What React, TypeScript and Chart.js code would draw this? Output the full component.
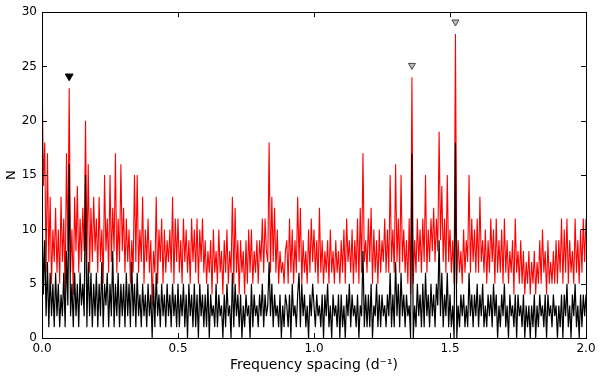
import { useEffect, useRef } from "react";
import { Chart, registerables } from "chart.js";

Chart.register(...registerables);

// Frequency grid step (d^-1), 0.0 .. 2.0
const freqStep = 0.005;

const redCounts = [
  26, 14, 18, 6, 17, 7, 13, 5, 10, 7, 12, 6, 10, 5, 13, 7, 11, 4, 17, 8,
  23, 6, 10, 4, 13, 8, 14, 6, 11, 7, 12, 8, 20, 7, 16, 6, 12, 7, 13, 8,
  11, 6, 13, 7, 10, 5, 15, 8, 11, 6, 15, 7, 12, 8, 17, 6, 11, 7, 16, 8,
  12, 6, 11, 7, 10, 5, 9, 6, 15, 7, 15, 6, 10, 7, 13, 5, 10, 7, 11, 6,
  9, 3, 8, 6, 13, 5, 10, 7, 11, 5, 10, 6, 9, 7, 10, 6, 13, 5, 11, 7,
  11, 6, 9, 5, 11, 7, 10, 6, 9, 5, 11, 7, 10, 6, 11, 5, 10, 7, 11, 6,
  9, 5, 8, 6, 9, 4, 10, 6, 8, 5, 10, 6, 8, 4, 9, 6, 10, 5, 8, 6,
  13, 5, 12, 6, 9, 4, 9, 6, 8, 4, 9, 5, 10, 6, 10, 5, 8, 6, 9, 5,
  9, 7, 11, 6, 11, 8, 7, 18, 6, 13, 7, 12, 6, 10, 5, 8, 6, 7, 5, 8,
  9, 5, 11, 6, 10, 5, 9, 6, 13, 7, 12, 5, 9, 6, 8, 5, 10, 6, 11, 7,
  10, 6, 9, 5, 12, 6, 9, 5, 8, 6, 9, 5, 10, 6, 8, 5, 9, 6, 8, 5,
  9, 6, 10, 5, 11, 7, 9, 6, 10, 5, 9, 6, 11, 5, 12, 6, 17, 7, 9, 6,
  11, 7, 12, 5, 10, 6, 9, 5, 10, 6, 9, 7, 11, 6, 10, 6, 15, 7, 10, 6,
  16, 7, 11, 6, 15, 7, 10, 6, 9, 5, 11, 4, 24, 5, 9, 6, 11, 7, 10, 6,
  11, 7, 15, 6, 10, 7, 11, 8, 12, 7, 11, 8, 19, 9, 14, 7, 11, 6, 15, 7,
  10, 6, 9, 5, 28, 5, 9, 6, 8, 5, 10, 6, 9, 7, 15, 6, 11, 7, 10, 6,
  11, 6, 13, 7, 9, 6, 10, 5, 9, 6, 11, 7, 10, 5, 11, 6, 9, 6, 10, 5,
  11, 6, 9, 5, 8, 6, 9, 4, 11, 6, 8, 5, 9, 5, 8, 4, 7, 5, 8, 4,
  7, 5, 8, 4, 7, 5, 9, 5, 10, 6, 8, 4, 9, 5, 7, 5, 8, 5, 9, 5,
  9, 6, 11, 5, 10, 6, 11, 5, 9, 6, 8, 5, 11, 6, 9, 5, 10, 6, 11, 7, 11,
];

const blackCounts = [
  13, 4, 9, 2, 7, 1, 6, 2, 5, 1, 6, 2, 5, 1, 4, 2, 6, 1, 8, 3,
  16, 2, 5, 1, 6, 2, 5, 1, 6, 3, 5, 2, 15, 1, 7, 2, 6, 1, 5, 2,
  6, 1, 5, 2, 7, 1, 5, 3, 6, 1, 5, 2, 8, 1, 5, 2, 6, 1, 5, 2,
  5, 1, 6, 2, 5, 1, 7, 2, 5, 1, 6, 2, 4, 1, 5, 2, 4, 1, 5, 2,
  4, 0, 5, 1, 6, 2, 4, 1, 5, 2, 4, 1, 5, 2, 4, 1, 5, 2, 4, 1,
  5, 1, 4, 2, 5, 1, 4, 0, 5, 2, 4, 1, 5, 1, 4, 0, 5, 2, 4, 1,
  4, 1, 5, 0, 4, 2, 3, 1, 5, 1, 4, 2, 3, 0, 4, 1, 5, 2, 3, 0,
  6, 1, 5, 2, 4, 1, 4, 0, 3, 1, 4, 2, 3, 0, 5, 1, 4, 2, 3, 1,
  4, 2, 5, 1, 4, 2, 3, 7, 2, 5, 1, 4, 2, 3, 1, 4, 0, 3, 1, 4,
  3, 1, 4, 0, 5, 2, 3, 1, 4, 6, 1, 5, 2, 4, 1, 3, 0, 4, 2, 5,
  3, 1, 4, 2, 3, 1, 4, 0, 4, 2, 5, 1, 3, 0, 4, 2, 3, 1, 4, 0,
  4, 1, 3, 0, 4, 2, 5, 1, 4, 2, 3, 1, 4, 0, 3, 2, 8, 1, 4, 1,
  4, 1, 5, 0, 3, 2, 5, 1, 4, 1, 4, 2, 3, 1, 4, 2, 6, 1, 4, 1,
  7, 2, 5, 1, 6, 2, 4, 1, 4, 2, 3, 0, 17, 0, 3, 1, 5, 2, 4, 1,
  5, 1, 6, 2, 4, 1, 5, 2, 4, 1, 5, 3, 9, 2, 6, 1, 4, 2, 6, 1,
  4, 1, 3, 0, 18, 0, 3, 1, 4, 2, 4, 1, 3, 1, 6, 2, 4, 1, 4, 2,
  5, 1, 4, 2, 5, 1, 3, 1, 4, 2, 4, 1, 5, 2, 4, 0, 3, 1, 4, 2,
  5, 1, 3, 0, 4, 2, 3, 1, 4, 0, 4, 2, 3, 1, 4, 0, 3, 1, 3, 0,
  3, 1, 4, 0, 3, 1, 4, 2, 3, 1, 4, 0, 4, 2, 3, 1, 4, 2, 3, 0,
  3, 1, 4, 0, 4, 2, 5, 1, 3, 0, 4, 2, 5, 1, 3, 0, 4, 1, 4, 2, 4,
];

const blackMarkerX = [0.1];
const blackMarkerY = [24.1];
const greyMarkerX = [1.36, 1.52];
const greyMarkerY = [25.1, 29.1];

const xTicks = [0, 0.5, 1.0, 1.5, 2.0];
const yTicks = [0, 5, 10, 15, 20, 25, 30];

const toPoints = (vals: number[]) =>
  vals.map((v, i) => ({ x: Number((i * freqStep).toFixed(3)), y: v }));

const framePlugin = {
  id: "frameTicks",
  afterDatasetsDraw(chart: any) {
    const { ctx, chartArea, scales } = chart;
    const { left, right, top, bottom } = chartArea;
    ctx.save();
    ctx.strokeStyle = "#000";
    ctx.lineWidth = 1;
    ctx.beginPath();
    for (const t of xTicks) {
      const px = Math.round(scales.x.getPixelForValue(t)) + 0.5;
      ctx.moveTo(px, bottom);
      ctx.lineTo(px, bottom - 5);
      ctx.moveTo(px, top);
      ctx.lineTo(px, top + 5);
    }
    for (const t of yTicks) {
      const py = Math.round(scales.y.getPixelForValue(t)) + 0.5;
      ctx.moveTo(left, py);
      ctx.lineTo(left + 5, py);
      ctx.moveTo(right, py);
      ctx.lineTo(right - 5, py);
    }
    ctx.stroke();
    ctx.strokeRect(Math.round(left) + 0.5, Math.round(top) + 0.5, Math.round(right - left), Math.round(bottom - top));
    ctx.restore();
  },
};

export default function App() {
  const canvasRef = useRef<HTMLCanvasElement | null>(null);

  useEffect(() => {
    if (!canvasRef.current) return;
    Chart.defaults.font.family = "'DejaVu Sans', sans-serif";
    const chart = new Chart(canvasRef.current, {
      type: "line",
      data: {
        datasets: [
          {
            type: "scatter",
            data: blackMarkerX.map((x, i) => ({ x, y: blackMarkerY[i] })),
            pointStyle: "triangle",
            rotation: 180,
            radius: 4.5,
            backgroundColor: "#000",
            borderColor: "#000",
            borderWidth: 1,
            order: 0,
          } as any,
          {
            type: "scatter",
            data: greyMarkerX.map((x, i) => ({ x, y: greyMarkerY[i] })),
            pointStyle: "triangle",
            rotation: 180,
            radius: 4,
            backgroundColor: "#b4c0c0",
            borderColor: "#444",
            borderWidth: 1,
            order: 0,
          } as any,
          {
            data: toPoints(blackCounts),
            borderColor: "#000",
            borderWidth: 1.2,
            pointRadius: 0,
            tension: 0,
            order: 1,
          },
          {
            data: toPoints(redCounts),
            borderColor: "#ff0000",
            borderWidth: 1.1,
            pointRadius: 0,
            tension: 0,
            order: 2,
          },
        ],
      },
      options: {
        animation: false,
        responsive: false,
        devicePixelRatio: 1,
        events: [],
        layout: { padding: { top: 9, right: 14, left: 0, bottom: 0 } },
        plugins: { legend: { display: false }, tooltip: { enabled: false } },
        scales: {
          x: {
            type: "linear",
            min: 0,
            max: 2,
            afterFit: (s: any) => {
              s.height = 39;
            },
            afterBuildTicks: (s: any) => {
              s.ticks = xTicks.map((v) => ({ value: v }));
            },
            grid: { display: false, drawTicks: false },
            border: { display: false },
            ticks: {
              padding: 4,
              color: "#000",
              font: { size: 12 },
              maxRotation: 0,
              callback: (v: any) => Number(v).toFixed(1),
            },
            title: {
              display: true,
              text: "Frequency spacing (d⁻¹)",
              color: "#000",
              font: { size: 14 },
              padding: { top: 0, bottom: 3 },
            },
          },
          y: {
            min: 0,
            max: 30,
            afterFit: (s: any) => {
              s.width = 42;
            },
            afterBuildTicks: (s: any) => {
              s.ticks = yTicks.map((v) => ({ value: v }));
            },
            grid: { display: false, drawTicks: false },
            border: { display: false },
            ticks: {
              padding: 5,
              color: "#000",
              font: { size: 12 },
            },
            title: {
              display: true,
              text: "N",
              color: "#000",
              font: { size: 13 },
              padding: { top: 4, bottom: 0 },
            },
          },
        },
      },
      plugins: [framePlugin],
    });
    return () => chart.destroy();
  }, []);

  return (
    <div style={{ position: "fixed", left: 0, top: 0, width: 600, height: 377, background: "#fff" }}>
      <canvas ref={canvasRef} width={600} height={377} />
    </div>
  );
}
